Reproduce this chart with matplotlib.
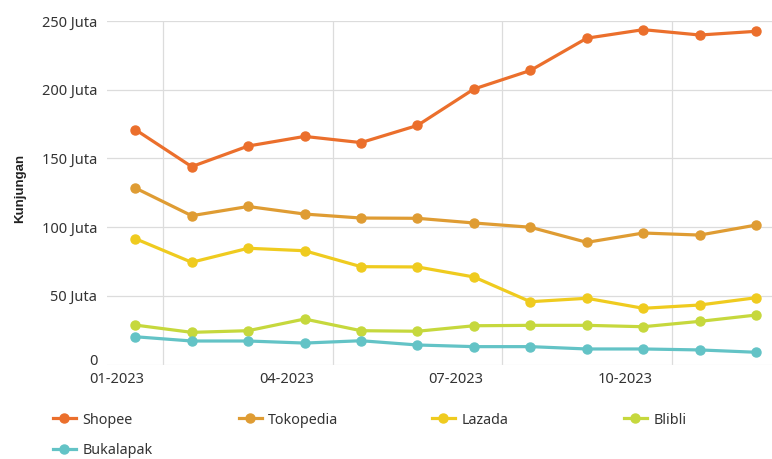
import matplotlib
matplotlib.use("Agg")
import matplotlib.pyplot as plt
from matplotlib.lines import Line2D
from matplotlib.transforms import offset_copy

plt.rcParams['font.family'] = ['Noto Sans', 'DejaVu Sans']

months = ['01-2023', '02-2023', '03-2023', '04-2023', '05-2023', '06-2023',
          '07-2023', '08-2023', '09-2023', '10-2023', '11-2023', '12-2023']

# kunjungan per bulan (juta)
shopee = [171, 144, 159, 166, 161.5, 174, 200.5, 214, 237.5, 243.7, 239.8, 242.5]
tokopedia = [128.5, 108.3, 115, 109.5, 106.6, 106.4, 103, 99.9, 88.9, 95.7, 94.2, 101.5]
lazada = [91.6, 74.4, 84.6, 82.8, 71.2, 71.0, 63.7, 45.7, 48.2, 40.9, 43.3, 48.6]
blibli = [28.7, 23.4, 24.6, 33.1, 24.6, 24.2, 28.2, 28.5, 28.5, 27.5, 31.4, 36]
bukalapak = [20.2, 17.1, 17.1, 15.6, 17.3, 14.2, 13, 13, 11.3, 11.3, 10.6, 8.9]

series = [
    ('Shopee', shopee, '#eb6f2c'),
    ('Tokopedia', tokopedia, '#df9c33'),
    ('Lazada', lazada, '#efcb1f'),
    ('Blibli', blibli, '#c6d83d'),
    ('Bukalapak', bukalapak, '#63c3c6'),
]

W, H = 772, 459
fig = plt.figure(figsize=(W / 100, H / 100), dpi=100)
ax = fig.add_axes([107 / W, 1 - 364.5 / H, (772 - 107) / W, (364.5 - 21) / H])

x = list(range(len(months)))
for name, vals, col in series:
    ax.plot(x, vals, color=col, lw=2.3, marker='o', ms=6.5, zorder=3,
            solid_capstyle='round')

ax.set_xlim(-0.5, 11.28)
ax.set_ylim(0, 250)

grid_col = '#dcdcdc'
for gx in [0.5, 3.5, 6.5, 9.5]:
    ax.axvline(gx, color=grid_col, lw=0.9, zorder=1)
for gy in [50, 100, 150, 200, 250]:
    ax.axhline(gy, color=grid_col, lw=0.9, zorder=1)
ax.axhline(0, color='#eeeeee', lw=0.9, zorder=1)

ax.set_yticks([0, 50, 100, 150, 200, 250])
ax.set_yticklabels(['', '50 Juta', '100 Juta', '150 Juta', '200 Juta', '250 Juta'])
# "0" sits a little higher so it clears the first month label
ax.text(0, 0, '0', ha='right', va='center', fontsize=10.5, color='#333333',
        transform=offset_copy(ax.get_yaxis_transform(), fig=fig, x=-9.5, y=3, units='dots'))

tick_idx = [0, 3, 6, 9]
ax.set_xticks([i - 0.32 for i in tick_idx])
ax.set_xticklabels([months[i] for i in tick_idx])
ax.tick_params(length=0, labelsize=10.5, colors='#333333')
ax.tick_params(axis='y', pad=7)
ax.tick_params(axis='x', pad=5.5)
for s in ax.spines.values():
    s.set_visible(False)

fig.text(20 / W, 1 - 188 / H, 'Kunjungan', rotation=90, ha='center', va='center',
         fontsize=9.5, fontweight='bold', color='#222222',
         family=['Liberation Sans', 'DejaVu Sans'])

# legend, fixed-width cells
leg_pos = [(53, 420), (239, 420), (432, 420), (624, 420), (53, 451)]
for (name, vals, col), (lx, ly) in zip(series, leg_pos):
    h = Line2D([], [], color=col, lw=2.3, marker='o', ms=6.5)
    fig.legend(handles=[h], labels=[name], loc='center left',
               bbox_to_anchor=(lx / W, 1 - ly / H), frameon=False,
               fontsize=10.3, handlelength=1.6, handletextpad=0.45,
               borderpad=0, borderaxespad=0, labelcolor='#333333')

fig.savefig('out.png', dpi=100)
